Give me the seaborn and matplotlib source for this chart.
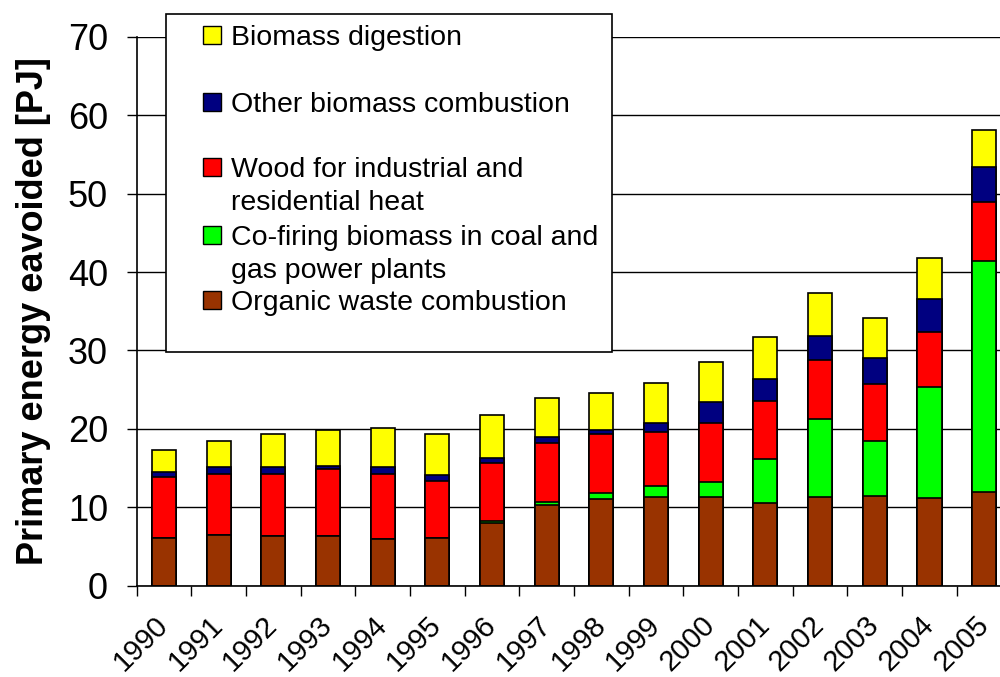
import numpy as np
import pandas as pd
import matplotlib
matplotlib.use("Agg")
import matplotlib.pyplot as plt
import seaborn as sns
from matplotlib.patches import Rectangle
from matplotlib.transforms import ScaledTranslation

# values (PJ), one list per stack layer, bottom to top
years = [str(y) for y in range(1990, 2006)]
organic_waste = [6.1, 6.4, 6.3, 6.3, 5.9, 6.1, 8.0, 10.3, 11.0, 11.3, 11.3, 10.6, 11.3, 11.5, 11.2, 11.9]
co_firing = [0.0, 0.0, 0.0, 0.0, 0.0, 0.0, 0.3, 0.4, 0.8, 1.4, 1.9, 5.5, 10.0, 7.0, 14.1, 29.5]
wood = [7.7, 7.9, 8.0, 8.6, 8.4, 7.3, 7.4, 7.5, 7.5, 6.9, 7.6, 7.5, 7.5, 7.2, 7.1, 7.5]
other_combustion = [0.7, 0.8, 0.8, 0.4, 0.8, 0.7, 0.6, 0.8, 0.5, 1.2, 2.6, 2.7, 3.0, 3.3, 4.2, 4.5]
digestion = [2.8, 3.4, 4.2, 4.6, 5.0, 5.3, 5.5, 4.9, 4.8, 5.1, 5.1, 5.4, 5.5, 5.1, 5.2, 4.7]

labels = [
    "Organic waste combustion",
    "Co-firing biomass in coal and\ngas power plants",
    "Wood for industrial and\nresidential heat",
    "Other biomass combustion",
    "Biomass digestion",
]
colors = ["#993300", "#00ff00", "#ff0000", "#000080", "#ffff00"]

df = pd.DataFrame(
    dict(zip(labels, [organic_waste, co_firing, wood, other_combustion, digestion])),
    index=years,
)
cum = df.cumsum(axis=1)

sns.set_theme(style="white")
plt.rcParams["font.family"] = ["Liberation Sans", "DejaVu Sans"]
plt.rcParams.update({"text.color": "black", "axes.labelcolor": "black",
                     "xtick.color": "black", "ytick.color": "black"})

fig = plt.figure(figsize=(10, 6.77), dpi=100)
ax = fig.add_axes([0.1365, 0.1349, 0.875, 0.8106])

# stacked bars: draw cumulative totals from the top layer down
for name, color in reversed(list(zip(labels, colors))):
    sns.barplot(x=years, y=cum[name].values, color=color, saturation=1,
                width=0.44, edgecolor="black", linewidth=1.2,
                errorbar=None, ax=ax, zorder=2)

ax.set_xlim(-0.5, 15.5)
ax.set_ylim(0, 70)
ax.set_yticks(range(0, 71, 10))
ax.yaxis.grid(True, color="black", linewidth=1)
ax.set_axisbelow(True)
for side in ["top", "right"]:
    ax.spines[side].set_visible(False)
for side in ["left", "bottom"]:
    ax.spines[side].set_color("black")
    ax.spines[side].set_linewidth(1.2)

ax.set_xticks(range(len(years)))
ax.set_xticklabels(years, rotation=45, ha="right", va="center",
                   rotation_mode="anchor", fontsize=21)
shift = ScaledTranslation(-0.08, 0, fig.dpi_scale_trans)
for lab in ax.get_xticklabels():
    lab.set_transform(lab.get_transform() + shift)
ax.set_xticks(np.arange(-0.5, len(years), 1), minor=True)
ax.tick_params(axis="x", which="major", length=0, pad=25)
ax.tick_params(axis="x", which="minor", length=7.5, width=1, color="black",
               direction="out", bottom=True)
ax.tick_params(axis="y", length=7.5, width=1, color="black", direction="out",
               left=True, labelsize=26, pad=13)
ax.set_xlabel("")
ax.set_ylabel("Primary energy eavoided [PJ]", fontsize=26, fontweight="bold",
              labelpad=12)

# legend box (Excel style, first line of each entry next to its square)
W, H = 1000, 677
fig.add_artist(Rectangle((166 / W, 1 - 352 / H), 446 / W, 338 / H,
                         transform=fig.transFigure, facecolor="white",
                         edgecolor="black", linewidth=1.2, zorder=3))
first_lines = [300, 235, 167, 102, 35]
for name, color, yc in zip(labels, colors, first_lines):
    fig.add_artist(Rectangle((203 / W, 1 - (yc + 9) / H), 18 / W, 18 / H,
                             transform=fig.transFigure, facecolor=color,
                             edgecolor="black", linewidth=1, zorder=4))
    for i, line in enumerate(name.split("\n")):
        fig.text(231 / W, 1 - (yc + 10 + 33 * i) / H, line, fontsize=20.5,
                 va="baseline", ha="left", zorder=4)

fig.savefig("out.png", dpi=100)
